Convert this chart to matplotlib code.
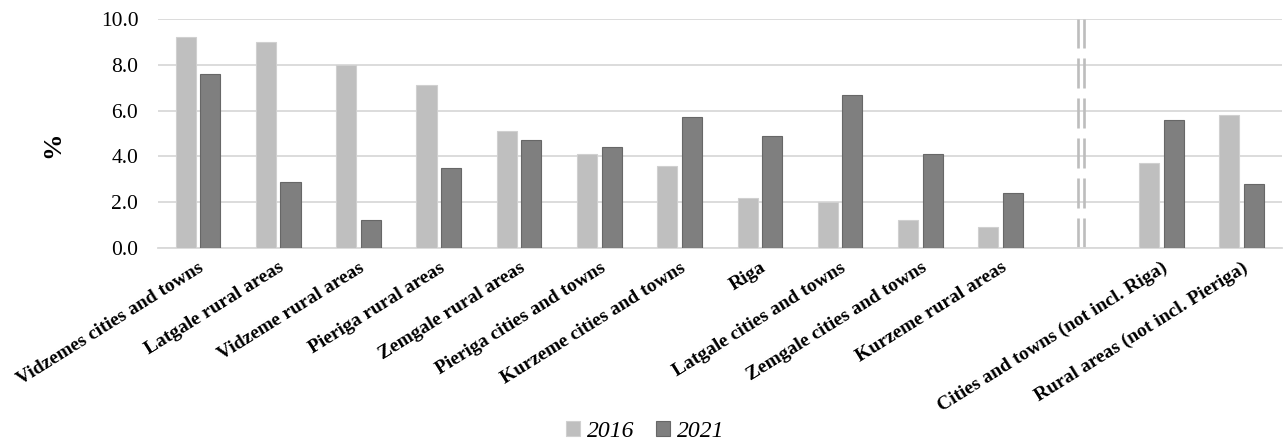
import numpy as np
import matplotlib.pyplot as plt

plt.rcParams['font.family'] = ['Liberation Serif', 'Tinos', 'TeX Gyre Termes', 'DejaVu Serif']
plt.rcParams['lines.scale_dashes'] = False

regions = ['Vidzemes cities and towns', 'Latgale rural areas', 'Vidzeme rural areas',
           'Pieriga rural areas', 'Zemgale rural areas', 'Pieriga cities and towns',
           'Kurzeme cities and towns', 'Riga', 'Latgale cities and towns',
           'Zemgale cities and towns', 'Kurzeme rural areas']
totals = ['Cities and towns (not incl. Riga)', 'Rural areas (not incl. Pieriga)']

y2016 = [9.2, 9.0, 8.0, 7.1, 5.1, 4.1, 3.6, 2.2, 2.0, 1.2, 0.9, 3.7, 5.8]
y2021 = [7.6, 2.9, 1.2, 3.5, 4.7, 4.4, 5.7, 4.9, 6.7, 4.1, 2.4, 5.6, 2.8]

labels = regions + totals
# leave one empty slot between the regions and the totals
gap = len(regions)
x = np.arange(len(labels), dtype=float)
x[gap:] += 1

fig, ax = plt.subplots(figsize=(12.83, 4.42), dpi=100)
fig.subplots_adjust(left=0.123, right=0.999, top=0.957, bottom=0.439)

w = 0.25
ax.bar(x - 0.153, y2016, w, color='#bfbfbf', edgecolor='#d0d0d0', linewidth=0.8,
       label='2016', zorder=3)
ax.bar(x + 0.153, y2021, w, color='#7f7f7f', edgecolor='#676767', linewidth=0.8,
       label='2021', zorder=3)

# double dashed separator in the empty slot
for dx in (-0.04, 0.035):
    ax.axvline(gap + dx, ymin=0, ymax=1, color='#bdbdbd', lw=1.9,
               linestyle=(0, (21.6, 7.2)), zorder=2)

ax.set_ylim(0, 10)
ax.set_xlim(-0.5, len(labels) + 0.5)
ax.set_yticks(np.arange(0, 10.1, 2))
ax.set_yticklabels([f'{v:.1f}' for v in np.arange(0, 10.1, 2)], fontsize=15.5)
ax.yaxis.grid(True, color='#d9d9d9', lw=1.3, zorder=0)
ax.set_axisbelow(True)
for s in ['top', 'right', 'left']:
    ax.spines[s].set_visible(False)
ax.spines['bottom'].set_color('#d9d9d9')
ax.spines['bottom'].set_linewidth(1.3)
ax.tick_params(length=0)
ax.tick_params(axis='y', pad=14)

ax.set_xticks(x)
ax.set_xticklabels(labels, rotation=32, ha='right', va='top',
                   rotation_mode='anchor', fontsize=14, fontweight='bold')
ax.tick_params(axis='x', pad=8)

ax.set_ylabel('%', fontsize=19, fontweight='bold')
ax.yaxis.set_label_coords(-0.083, 0.45)

fig.legend(loc='lower center', bbox_to_anchor=(0.503, -0.047), ncol=2, frameon=False,
           prop={'style': 'italic', 'size': 17}, handlelength=0.6, handleheight=0.6,
           handletextpad=0.3, columnspacing=0.9)

fig.savefig('out.png', dpi=100)
